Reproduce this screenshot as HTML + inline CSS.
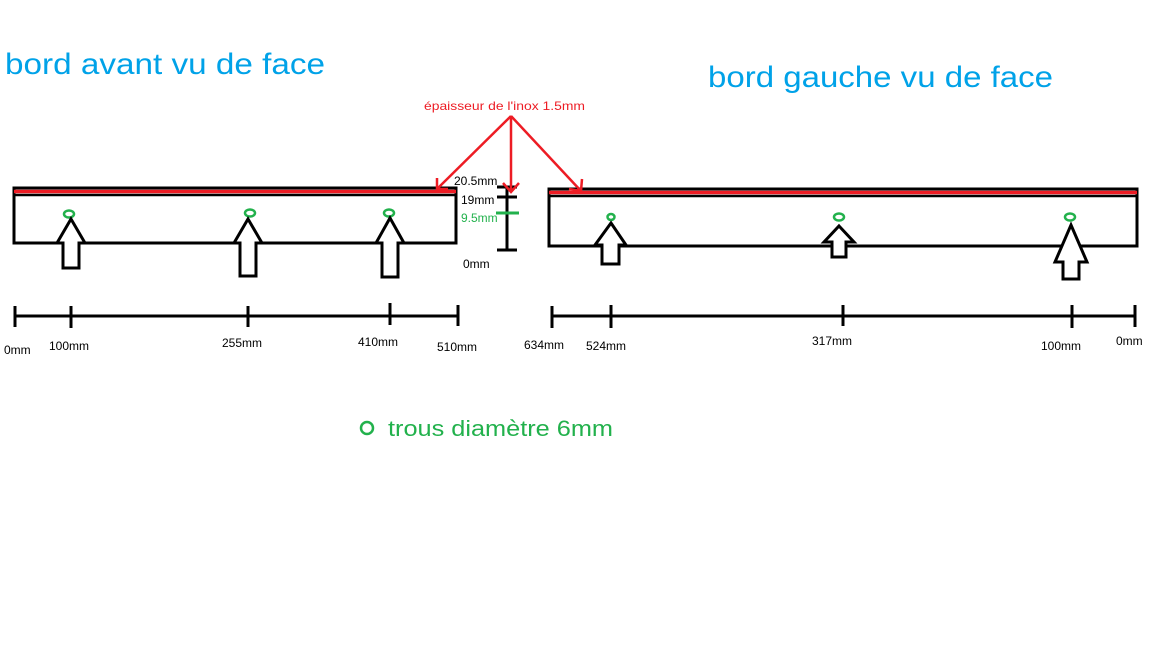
<!DOCTYPE html>
<html><head><meta charset="utf-8"><style>
html,body{margin:0;padding:0;background:#fff;width:1152px;height:648px;overflow:hidden}
svg{display:block}
text{font-family:"Liberation Sans",sans-serif}
</style></head><body>
<svg width="1152" height="648" viewBox="0 0 1152 648" xmlns="http://www.w3.org/2000/svg">
<rect width="1152" height="648" fill="#fff"/>
<text x="5" y="74" font-size="30" fill="#00a2e8" textLength="320" lengthAdjust="spacingAndGlyphs">bord avant vu de face</text>
<text x="708" y="87" font-size="30" fill="#00a2e8" textLength="345" lengthAdjust="spacingAndGlyphs">bord gauche vu de face</text>
<text x="424" y="110" font-size="12" fill="#ed1c24" textLength="161" lengthAdjust="spacingAndGlyphs">épaisseur de l'inox 1.5mm</text>

<!-- left board -->
<rect x="14" y="188" width="442" height="55" fill="none" stroke="#000" stroke-width="3"/>
<line x1="14" y1="191.5" x2="456" y2="191.5" stroke="#ed1c24" stroke-width="3.5"/>
<line x1="14" y1="195" x2="456" y2="195" stroke="#000" stroke-width="2.5"/>
<!-- right board -->
<rect x="549" y="189" width="588" height="57" fill="none" stroke="#000" stroke-width="3"/>
<line x1="549" y1="192.5" x2="1137" y2="192.5" stroke="#ed1c24" stroke-width="3.5"/>
<line x1="549" y1="196" x2="1137" y2="196" stroke="#000" stroke-width="2.5"/>

<g fill="none" stroke="#22b14c" stroke-width="2.5">
<ellipse cx="69" cy="214" rx="5" ry="3.5"/>
<ellipse cx="250" cy="213" rx="5" ry="3.5"/>
<ellipse cx="389" cy="213" rx="5" ry="3.5"/>
<ellipse cx="611" cy="217" rx="3.5" ry="3"/>
<ellipse cx="839" cy="217" rx="5" ry="3.5"/>
<ellipse cx="1070" cy="217" rx="5" ry="3.5"/>
<ellipse cx="367" cy="428" rx="6" ry="6"/>
</g>

<g fill="#fff" stroke="#000" stroke-width="3" stroke-linejoin="miter">
<polygon points="71,219 85,243 79,243 79,268 63,268 63,243 57,243"/>
<polygon points="248,219 262,243 256,243 256,276 240,276 240,243 234,243"/>
<polygon points="390,218 404,243 398,243 398,277 382,277 382,243 376,243"/>
<polygon points="611,223 626,245 619,245 619,264 602,264 602,245 595,245"/>
<polygon points="839,226 854,242 846,242 846,257 832,257 832,242 824,242"/>
<polygon points="1071,225 1087,262 1079,262 1079,279 1063,279 1063,262 1055,262"/>
</g>

<!-- rulers -->
<g stroke="#000" stroke-width="3">
<line x1="15" y1="316" x2="458" y2="316"/>
<line x1="15" y1="306" x2="15" y2="327"/>
<line x1="71" y1="306" x2="71" y2="328"/>
<line x1="248" y1="306" x2="248" y2="327"/>
<line x1="390" y1="303" x2="390" y2="325"/>
<line x1="458" y1="305" x2="458" y2="326"/>
<line x1="552" y1="316" x2="1135" y2="316"/>
<line x1="552" y1="306" x2="552" y2="328"/>
<line x1="611" y1="305" x2="611" y2="328"/>
<line x1="843" y1="305" x2="843" y2="326"/>
<line x1="1072" y1="305" x2="1072" y2="328"/>
<line x1="1135" y1="305" x2="1135" y2="327"/>
</g>
<g font-size="12" fill="#000">
<text x="4" y="354">0mm</text>
<text x="49" y="350">100mm</text>
<text x="222" y="347">255mm</text>
<text x="358" y="346">410mm</text>
<text x="437" y="351">510mm</text>
<text x="524" y="349">634mm</text>
<text x="586" y="350">524mm</text>
<text x="812" y="345">317mm</text>
<text x="1041" y="350">100mm</text>
<text x="1116" y="345">0mm</text>
</g>

<!-- height dimension -->
<g stroke="#000" stroke-width="3">
<line x1="507" y1="187" x2="507" y2="250"/>
<line x1="497" y1="187" x2="517" y2="187"/>
<line x1="497" y1="197" x2="517" y2="197"/>
<line x1="497" y1="250" x2="517" y2="250"/>
</g>
<line x1="496" y1="213" x2="519" y2="213" stroke="#22b14c" stroke-width="3"/>
<text x="454" y="185" font-size="12" fill="#000">20.5mm</text>
<text x="461" y="204" font-size="12" fill="#000">19mm</text>
<text x="461" y="222" font-size="12" fill="#22b14c">9.5mm</text>
<text x="463" y="268" font-size="12" fill="#000">0mm</text>

<!-- red arrows -->
<g stroke="#ed1c24" stroke-width="2.5" fill="none">
<line x1="511" y1="116" x2="437" y2="189"/>
<polyline points="437,178 437,189 448,189"/>
<line x1="511" y1="116" x2="511" y2="192"/>
<polyline points="503,183 511,192 519,183"/>
<line x1="511" y1="116" x2="581" y2="191"/>
<polyline points="582,179 581,191 569,189"/>
</g>

<text x="388" y="436" font-size="22" fill="#22b14c" textLength="225" lengthAdjust="spacingAndGlyphs">trous diamètre 6mm</text>
</svg>
</body></html>
